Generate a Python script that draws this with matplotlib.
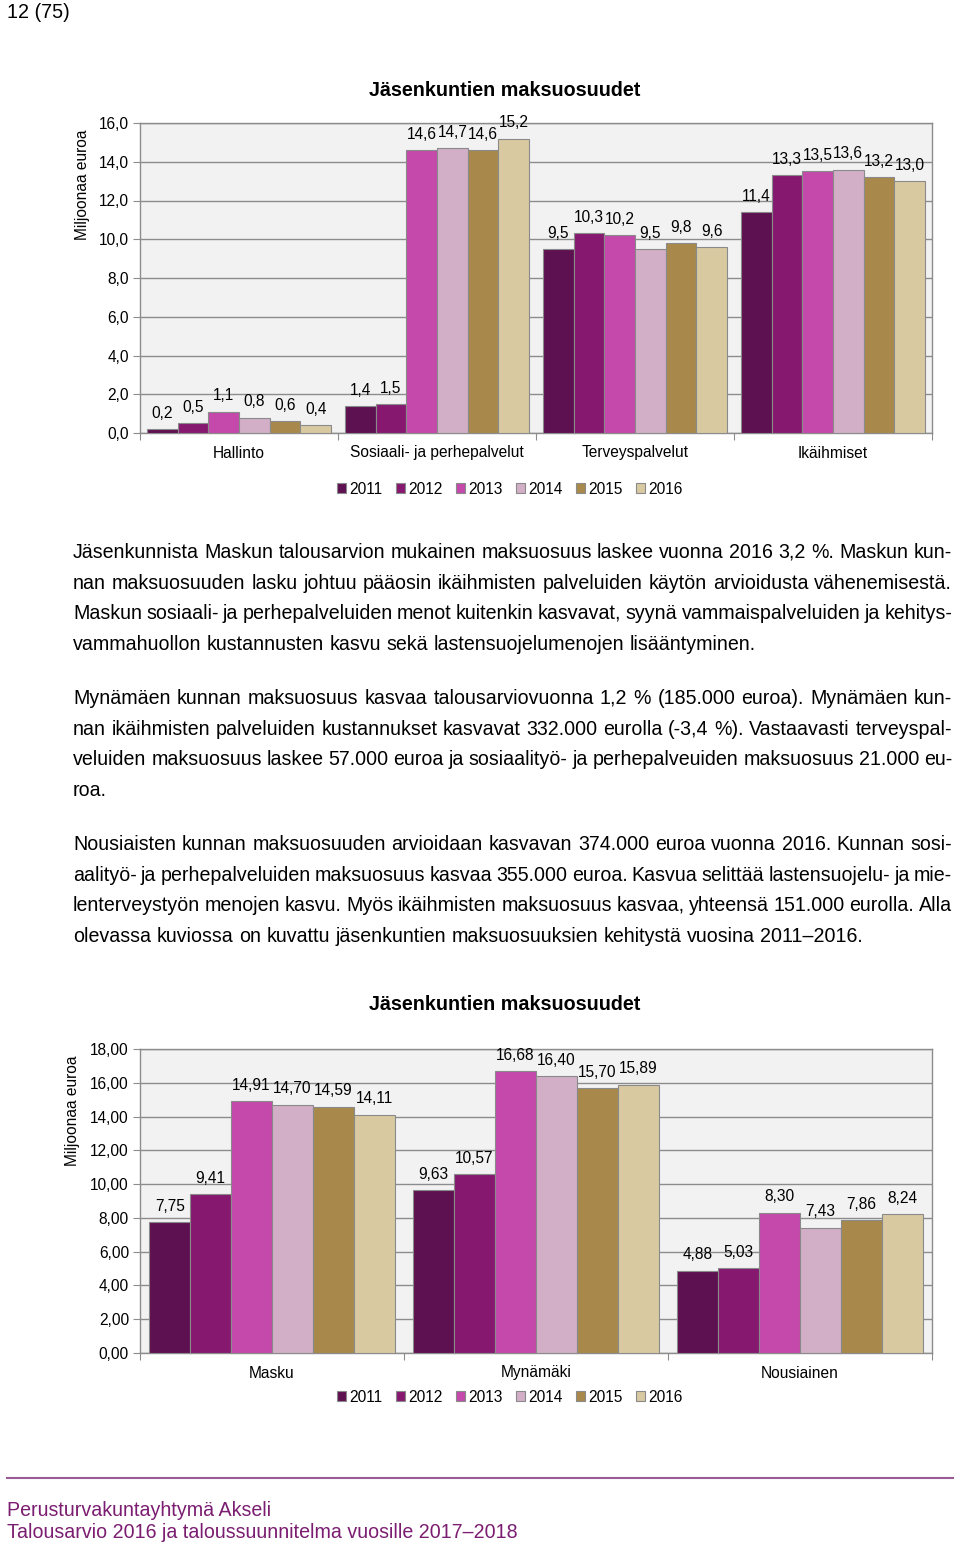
import math
import matplotlib
matplotlib.use("Agg")
import matplotlib.pyplot as plt
from matplotlib.patches import Patch
from matplotlib.font_manager import FontProperties
import numpy as np

plt.rcParams['font.family'] = ['Liberation Sans', 'DejaVu Sans']

# ---------------- data ----------------
years = ["2011", "2012", "2013", "2014", "2015", "2016"]
colors = ["#5e1150", "#86196f", "#c449ab", "#d2aec7", "#a8894b", "#d8c9a1"]

chart1_title = "Jäsenkuntien maksuosuudet"
chart1_categories = ["Hallinto", "Sosiaali- ja perhepalvelut", "Terveyspalvelut", "Ikäihmiset"]
c1_2011 = [0.2, 1.4, 9.5, 11.4]
c1_2012 = [0.5, 1.5, 10.3, 13.3]
c1_2013 = [1.1, 14.6, 10.2, 13.5]
c1_2014 = [0.8, 14.7, 9.5, 13.6]
c1_2015 = [0.6, 14.6, 9.8, 13.2]
c1_2016 = [0.4, 15.2, 9.6, 13.0]
chart1_yticks = [0, 2, 4, 6, 8, 10, 12, 14, 16]

chart2_title = "Jäsenkuntien maksuosuudet"
chart2_categories = ["Masku", "Mynämäki", "Nousiainen"]
c2_2011 = [7.75, 9.63, 4.88]
c2_2012 = [9.41, 10.57, 5.03]
c2_2013 = [14.91, 16.68, 8.30]
c2_2014 = [14.70, 16.40, 7.43]
c2_2015 = [14.59, 15.70, 7.86]
c2_2016 = [14.11, 15.89, 8.24]
chart2_yticks = [0, 2, 4, 6, 8, 10, 12, 14, 16, 18]

ylabel = "Miljoonaa euroa"

page_header = "12 (75)"
paragraphs = [
    ["Jäsenkunnista Maskun talousarvion mukainen maksuosuus laskee vuonna 2016 3,2 %. Maskun kun-",
     "nan maksuosuuden lasku johtuu pääosin ikäihmisten palveluiden käytön arvioidusta vähenemisestä.",
     "Maskun sosiaali- ja perhepalveluiden menot kuitenkin kasvavat, syynä vammaispalveluiden ja kehitys-",
     "vammahuollon kustannusten kasvu sekä lastensuojelumenojen lisääntyminen."],
    ["Mynämäen kunnan maksuosuus kasvaa talousarviovuonna 1,2 % (185.000 euroa). Mynämäen kun-",
     "nan ikäihmisten palveluiden kustannukset kasvavat 332.000 eurolla (-3,4 %). Vastaavasti terveyspal-",
     "veluiden maksuosuus laskee 57.000 euroa ja sosiaalityö- ja perhepalveuiden maksuosuus 21.000 eu-",
     "roa."],
    ["Nousiaisten kunnan maksuosuuden arvioidaan kasvavan 374.000 euroa vuonna 2016. Kunnan sosi-",
     "aalityö- ja perhepalveluiden maksuosuus kasvaa 355.000 euroa. Kasvua selittää lastensuojelu- ja mie-",
     "lenterveystyön menojen kasvu. Myös ikäihmisten maksuosuus kasvaa, yhteensä 151.000 eurolla. Alla",
     "olevassa kuviossa on kuvattu jäsenkuntien maksuosuuksien kehitystä vuosina 2011–2016."],
]
footer_lines = ["Perusturvakuntayhtymä Akseli",
                "Talousarvio 2016 ja taloussuunnitelma vuosille 2017–2018"]

# ---------------- figure ----------------
W, H = 960, 1545
fig = plt.figure(figsize=(W / 100, H / 100), dpi=100)
fig.patch.set_facecolor("white")

page = fig.add_axes([0, 0, 1, 1])
page.set_xlim(0, W)
page.set_ylim(H, 0)
page.axis("off")
renderer = fig.canvas.get_renderer()

GRID = "#8c8c8c"
EDGE = "#8a8a8a"
CFS = 11.2


def make_chart(series, cats, yticks, ndec, box, title, title_y, ylab_x, ylab_y, legend_y):
    left, top, right, bottom = box
    ax = fig.add_axes([left / W, 1 - bottom / H, (right - left) / W, (bottom - top) / H])
    ax.set_facecolor("#f2f2f2")
    n = len(cats)
    w = 0.155
    x = np.arange(n)
    for j, (vals, col) in enumerate(zip(series, colors)):
        pos = x + (j - 2.5) * w
        ax.bar(pos, vals, width=w, color=col, edgecolor=EDGE, linewidth=0.8, zorder=3)
        for p, v in zip(pos, vals):
            ax.annotate(f"{v:.{ndec}f}".replace(".", ","), (p, v), xytext=(0, 6),
                        textcoords="offset points", ha="center", va="bottom",
                        fontsize=CFS, color="black", zorder=4)
    ax.set_xlim(-0.5, n - 0.5)
    ax.set_ylim(yticks[0], yticks[-1])
    ax.set_yticks(yticks)
    ax.set_yticklabels([f"{t:.{ndec}f}".replace(".", ",") for t in yticks], fontsize=CFS)
    ax.yaxis.grid(True, color=GRID, linewidth=1.0, zorder=0)
    ax.set_axisbelow(True)
    ax.set_xticks(np.arange(n + 1) - 0.5)
    ax.set_xticklabels([])
    ax.set_xticks(x, minor=True)
    ax.set_xticklabels(cats, minor=True, fontsize=CFS)
    ax.tick_params(axis="x", which="major", length=5, color=GRID, direction="out")
    ax.tick_params(axis="x", which="minor", length=0, pad=9)
    ax.tick_params(axis="y", length=5, color=GRID, pad=3)
    for s in ax.spines.values():
        s.set_color(GRID)
        s.set_linewidth(1.0)
    page.text((left + right) / 2 - 31, title_y, title, fontsize=14.2, fontweight="bold",
              ha="center", va="center")
    page.text(ylab_x, ylab_y, ylabel, fontsize=CFS, rotation=90, ha="center", va="center")
    handles = [Patch(facecolor=c, edgecolor=EDGE, linewidth=0.8) for c in colors]
    fig.legend(handles, years, loc="center", bbox_to_anchor=(510 / W, 1 - legend_y / H),
               ncol=6, frameon=False, fontsize=CFS, handlelength=0.6, handleheight=0.6,
               handletextpad=0.2, columnspacing=0.85)
    return ax


make_chart([c1_2011, c1_2012, c1_2013, c1_2014, c1_2015, c1_2016], chart1_categories,
           chart1_yticks, 1, (140, 123, 932, 433), chart1_title, 90, 83, 185, 489)
make_chart([c2_2011, c2_2012, c2_2013, c2_2014, c2_2015, c2_2016], chart2_categories,
           chart2_yticks, 2, (140, 1049, 932, 1353), chart2_title, 1005, 73, 1111, 1397)

# ---------------- text ----------------
page.text(7, 12, page_header, fontsize=14.2, ha="left", va="center")

BODY_FS = 14.1
X0, X1 = 73, 952


def measure(s, fs):
    t = page.text(0, 0, s, fontsize=fs)
    wdt = t.get_window_extent(renderer).width
    t.remove()
    return wdt


space_w = measure("x x", BODY_FS) - measure("xx", BODY_FS)


def baseline_fix(word):
    """Offset that keeps each word's rasterised baseline on the same pixel row."""
    try:
        from matplotlib.font_manager import fontManager, get_font
        from matplotlib.backends.backend_agg import get_hinting_flag
        prop = FontProperties(family=plt.rcParams['font.family'], size=BODY_FS)
        font = get_font(fontManager._find_fonts_by_props(prop))
        font.clear()
        font.set_size(BODY_FS, 100)
        font.set_text(word, 0, flags=get_hinting_flag())
        _, hh = font.get_width_height()
        dd = font.get_descent()
        A_plus_D = hh / 64.0
        D = dd / 64.0
        A = A_plus_D - D
        return math.floor(A_plus_D) - math.floor(A) - D
    except Exception:
        return 0.0


def put_line(line, y, justify):
    words = line.split(" ")
    texts = [page.text(0, y + baseline_fix(wd), wd, fontsize=BODY_FS, ha="left",
                       va="baseline") for wd in words]
    widths = [t.get_window_extent(renderer).width for t in texts]
    if justify and len(words) > 1:
        sp = (X1 - X0 - sum(widths)) / (len(words) - 1)
    else:
        sp = space_w
    xx = X0
    for t, wd in zip(texts, widths):
        t.set_x(xx)
        xx += wd + sp


para_starts = [558, 704, 850]   # baselines (fix adds roughly the descent back)
LS = 30.7
for start, para in zip(para_starts, paragraphs):
    for i, line in enumerate(para):
        put_line(line, float(round(start + i * LS)), i < len(para) - 1)

# footer
page.plot([7, 953], [1478, 1478], color="#9a5c95", linewidth=1.5)
page.text(7, 1510, footer_lines[0], fontsize=14.1, color="#7b1d70", ha="left", va="center")
page.text(7, 1532, footer_lines[1], fontsize=14.1, color="#7b1d70", ha="left", va="center")

fig.savefig("out.png", dpi=100)
